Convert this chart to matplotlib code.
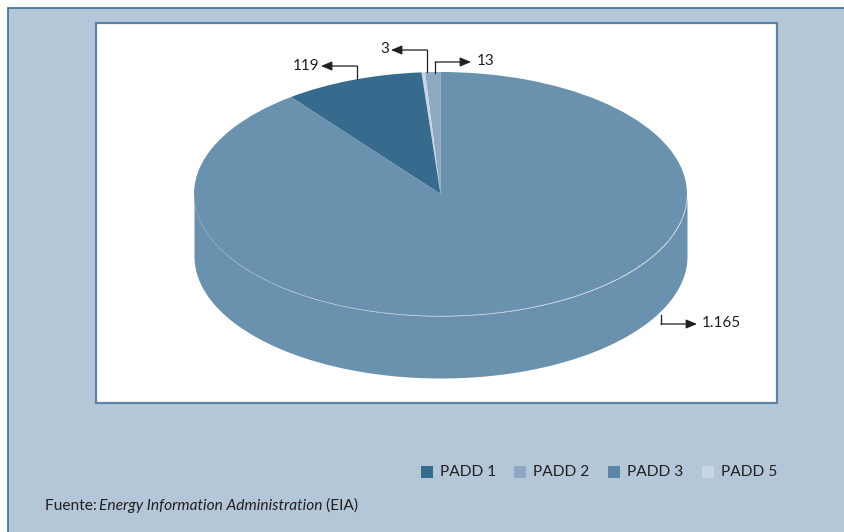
import numpy as np
import matplotlib
matplotlib.use("Agg")
import matplotlib.pyplot as plt
from matplotlib.patches import Rectangle

# Volumes by PADD region
regions = ["PADD 1", "PADD 2", "PADD 3", "PADD 5"]
values = [119, 13, 1165, 3]
face_colors = ["#366b8e", "#8ea9c1", "#6a91ad", "#c8d6e3"]
legend_colors = ["#366b8e", "#8ea9c1", "#5d86a6", "#c8d6e3"]
# drawing order of the slices, counter-clockwise from 12 o'clock
slice_order = ["PADD 2", "PADD 5", "PADD 1", "PADD 3"]

source_prefix = "Fuente: "
source_italic = "Energy Information Administration"
source_suffix = " (EIA)"

W, H = 845, 532
TEXT = "#231f20"
FONT = "Lato"

fig = plt.figure(figsize=(W / 100, H / 100), dpi=100)
fig.patch.set_facecolor("white")

# pixel-space canvas for panels, legend and labels
bg = fig.add_axes([0, 0, 1, 1], zorder=0)
bg.set_xlim(0, W)
bg.set_ylim(H, 0)
bg.axis("off")

bg.add_patch(Rectangle((8, 8), W, H, facecolor="#b4c7d8",
                       edgecolor="#3d6d8f", lw=1.2))
bg.add_patch(Rectangle((96.5, 22.5), 681, 380, facecolor="white",
                       edgecolor="#5b83a4", lw=1.6))

# ---- 3D pie ----
left, right, top, bottom = 194, 687, 72, 378
ry_px = 122.0
depth = (bottom - top - 2 * ry_px) / ry_px
pax = fig.add_axes([left / W, (H - bottom) / H, (right - left) / W,
                    (bottom - top) / H], zorder=1)

ordered_vals = [values[regions.index(r)] for r in slice_order]
ordered_cols = [face_colors[regions.index(r)] for r in slice_order]

# side wall of the front half
th = np.linspace(np.pi, 2 * np.pi, 400)
pax.fill_between(np.cos(th), np.sin(th) - depth, np.sin(th),
                 color=face_colors[regions.index("PADD 3")], lw=0, zorder=1)

pax.pie(ordered_vals, colors=ordered_cols, startangle=90, counterclock=True,
        radius=1, center=(0, 0), wedgeprops=dict(linewidth=0, zorder=2),
        frame=False)
pax.plot(np.cos(th), np.sin(th), color="#a6bdd0", lw=0.5,
         ls=(0, (2, 2)), zorder=3)
pax.set_aspect("auto")
pax.set_xlim(-1, 1)
pax.set_ylim(-1 - depth, 1)
pax.axis("off")

# ---- value labels with leader arrows (pixel space) ----
ov = fig.add_axes([0, 0, 1, 1], zorder=2)
ov.set_xlim(0, W)
ov.set_ylim(H, 0)
ov.axis("off")
ov.patch.set_alpha(0)


def fmt(v):
    return f"{v:,}".replace(",", ".")


label_layout = {
    # start of leader, corner, arrow tip, text anchor, alignment
    "PADD 1": ((357, 79), (357, 66), (321, 66), (319, 66), "right"),
    "PADD 5": ((427, 72), (427, 50), (391, 50), (389, 49), "right"),
    "PADD 2": ((435, 73), (435, 62), (471, 62), (477, 61), "left"),
    "PADD 3": ((661, 315), (661, 324), (697, 324), (702, 323), "left"),
}
for name in regions:
    start, corner, tip, tpos, ha = label_layout[name]
    ov.plot([start[0], corner[0]], [start[1], corner[1]], color=TEXT, lw=0.9)
    ov.annotate("", xy=tip, xytext=corner,
                arrowprops=dict(arrowstyle="-|>,head_length=0.6,head_width=0.25",
                                color=TEXT, lw=0.9,
                                mutation_scale=11, shrinkA=0, shrinkB=0))
    ov.text(tpos[0], tpos[1], fmt(values[regions.index(name)]), ha=ha,
            va="center", fontsize=11, color=TEXT, family=FONT)

# ---- legend ----
leg_x = [421, 514, 608, 702]
for x, name, col in zip(leg_x, regions, legend_colors):
    ov.add_patch(Rectangle((x, 466), 12, 12, facecolor=col, lw=0))
    ov.text(x + 19, 472, name, ha="left", va="center", fontsize=11.2,
            color=TEXT, family=FONT)

# ---- source line ----
FS = 11.2
t1 = ov.text(45, 506, source_prefix, ha="left", va="center", fontsize=FS,
             color=TEXT, family=FONT)
fig.canvas.draw()
r = fig.canvas.get_renderer()
bb = t1.get_window_extent(r)
x2 = ov.transData.inverted().transform((bb.x1, 0))[0] - 2
t2 = ov.text(x2, 506, source_italic, ha="left", va="center", fontsize=FS,
             color=TEXT, family=FONT, style="italic")
bb2 = t2.get_window_extent(r)
x3 = ov.transData.inverted().transform((bb2.x1, 0))[0]
ov.text(x3, 506, source_suffix, ha="left", va="center", fontsize=FS,
        color=TEXT, family=FONT)

fig.savefig("out.png", dpi=100)
